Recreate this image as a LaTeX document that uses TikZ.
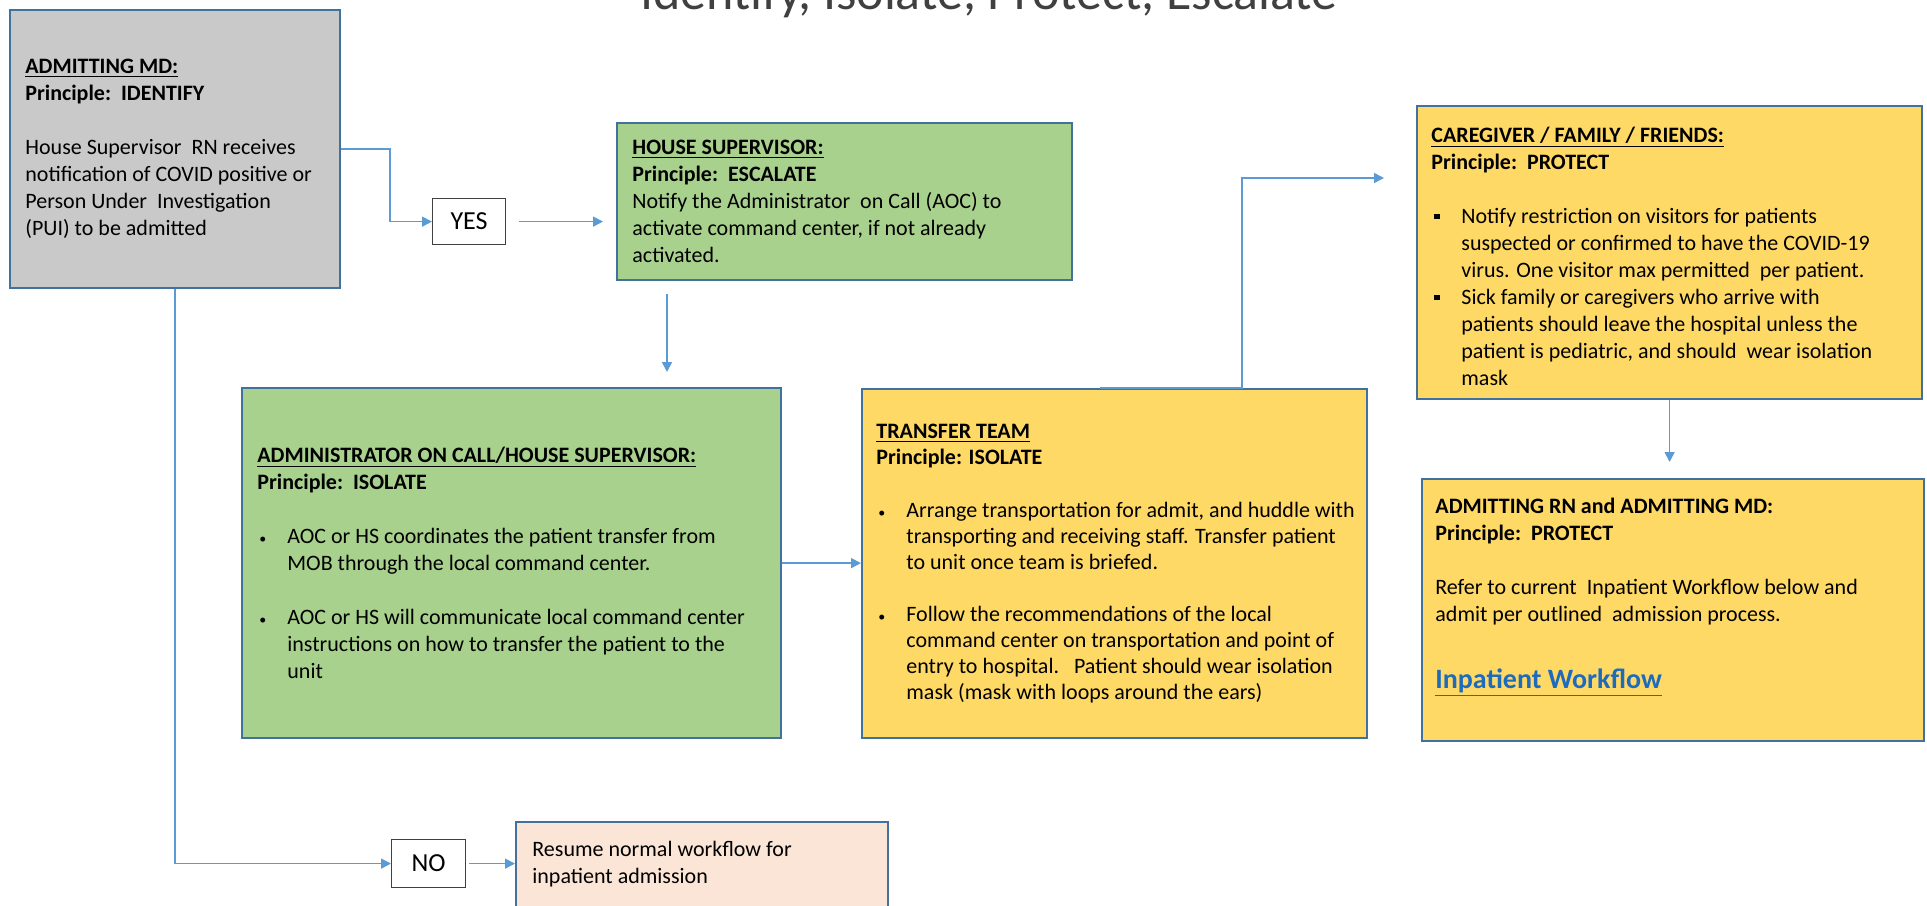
\documentclass[tikz,border=0pt]{standalone}
\usepackage{fontspec}
\setmainfont{Carlito}
\usetikzlibrary{arrows.meta}
\definecolor{bordc}{HTML}{41719C}
\definecolor{connc}{HTML}{5B9BD5}
\definecolor{grayf}{HTML}{C9C9C9}
\definecolor{greenf}{HTML}{A9D18E}
\definecolor{yellowf}{HTML}{FFD966}
\definecolor{peachf}{HTML}{FBE5D6}
\definecolor{linkc}{HTML}{1E6BBE}
\definecolor{titlec}{HTML}{404040}
\newcommand{\bitem}[1]{\makebox[15pt][l]{\hspace{1pt}{\fontsize{7}{7}\selectfont\textbullet}}#1}
\newcommand{\sitem}[1]{\makebox[15pt][l]{\hspace{1.5pt}\rule[0.22em]{2.6pt}{2.6pt}}#1}
\newcommand{\bcont}[1]{\hspace*{15pt}#1}
\begin{document}
\begin{tikzpicture}[x=0.5pt,y=-0.5pt,
  box/.style={draw=bordc, line width=1.1pt, anchor=north west, inner sep=0pt},
  txt/.style={anchor=west, align=left, inner sep=0pt, font=\fontsize{11}{13.5}\selectfont},
  conn/.style={draw=connc, line width=0.8pt, -{Triangle[length=5pt,width=5pt]}},
  lbl/.style={draw=black!75, fill=white, line width=0.6pt, anchor=north west, inner sep=0pt, font=\fontsize{13}{15}\selectfont}]
\useasboundingbox (0,0) rectangle (1927,905);
\clip (0,0) rectangle (1927,905);

% title
\node[anchor=base, font=\fontsize{26}{30}\selectfont, text=titlec] (title) at (989,9) {Identify, Isolate, Protect, Escalate};

% boxes
\node[box, fill=grayf, minimum width=165pt, minimum height=139pt] (md) at (9,9) {};
\node[lbl, minimum width=36.5pt, minimum height=23pt] (yes) at (432,198) {YES};
\node[box, fill=greenf, minimum width=227.5pt, minimum height=78.5pt] (hs) at (616,122) {};
\node[box, fill=greenf, minimum width=269.5pt, minimum height=175pt] (aoc) at (241,387) {};
\node[box, fill=yellowf, minimum width=252.5pt, minimum height=174.5pt] (tt) at (861,388) {};
\node[box, fill=yellowf, minimum width=252.5pt, minimum height=146.5pt] (cg) at (1416,105) {};
\node[box, fill=yellowf, minimum width=251pt, minimum height=131pt] (rn) at (1421,478) {};
\node[lbl, minimum width=37pt, minimum height=24pt] (no) at (391,839) {NO};
\node[box, fill=peachf, minimum width=186pt, minimum height=50pt] (resume) at (515,821) {};

% texts
\node[txt] (mdt) at ([xshift=8pt]md.west) {\underline{\textbf{ADMITTING MD:}}\\
\textbf{Principle:\ \ IDENTIFY}\\[13.5pt]
House Supervisor\ \ RN receives\\
notification of COVID positive or\\
Person Under\ \ Investigation\\
(PUI) to be admitted};

\node[txt] (hst) at ([xshift=8pt]hs.west) {\underline{\textbf{HOUSE SUPERVISOR:}}\\
\textbf{Principle:\ \ ESCALATE}\\
Notify the Administrator\ \ on Call (AOC) to\\
activate command center, if not already\\
activated.};

\node[txt] (aoct) at ([xshift=8pt]aoc.west) {\underline{\textbf{ADMINISTRATOR ON CALL/HOUSE SUPERVISOR:}}\\
\textbf{Principle:\ \ ISOLATE}\\[13.5pt]
\bitem{AOC or HS coordinates the patient transfer from}\\
\bcont{MOB through the local command center.}\\[13.5pt]
\bitem{AOC or HS will communicate local command center}\\
\bcont{instructions on how to transfer the patient to the}\\
\bcont{unit}};

\node[txt, font=\fontsize{11}{13}\selectfont] (ttt) at ([xshift=7.5pt]tt.west) {\underline{\textbf{TRANSFER TEAM}}\\
\textbf{Principle: ISOLATE}\\[13.5pt]
\bitem{Arrange transportation for admit, and huddle with}\\
\bcont{transporting and receiving staff. Transfer patient}\\
\bcont{to unit once team is briefed.}\\[12.8pt]
\bitem{Follow the recommendations of the local}\\
\bcont{command center on transportation and point of}\\
\bcont{entry to hospital.\ \ \ Patient should wear isolation}\\
\bcont{mask (mask with loops around the ears)}};

\node[txt, yshift=-2pt] (cgt) at ([xshift=7.5pt]cg.west) {\underline{\textbf{CAREGIVER / FAMILY / FRIENDS:}}\\
\textbf{Principle:\ \ PROTECT}\\[13.5pt]
\sitem{Notify restriction on visitors for patients}\\
\bcont{suspected or confirmed to have the COVID-19}\\
\bcont{virus. One visitor max permitted\ \ per patient.}\\
\sitem{Sick family or caregivers who arrive with}\\
\bcont{patients should leave the hospital unless the}\\
\bcont{patient is pediatric, and should\ \ wear isolation}\\
\bcont{mask}};

\node[txt, yshift=6.4pt] (rnt) at ([xshift=7pt]rn.west) {\textbf{ADMITTING RN and ADMITTING MD:}\\
\textbf{Principle:\ \ PROTECT}\\[13.5pt]
Refer to current\ \ Inpatient Workflow below and\\
admit per outlined\ \ admission process.\\[19.8pt]
{\fontsize{14}{16}\selectfont\color{linkc}\underline{\textbf{Inpatient Workflow}}}};

\node[txt] (resumet) at ([xshift=8.5pt,yshift=-21.5pt]resume.north west) {Resume normal workflow for\\
inpatient admission};

% connectors
\draw[conn] (md.east) -- ++(49,0) |- (yes.west);
\draw[conn] ([xshift=6.5pt]yes.east) -- ([xshift=-6.5pt]yes.east -| hs.west);
\draw[conn] ([xshift=25.5pt,yshift=-6.5pt]hs.south west) coordinate (s1) -- ([yshift=7.5pt]s1 |- aoc.north);
\draw[conn] (aoc.east) -- (aoc.east -| tt.west);
\draw[conn] ([xshift=119.5pt]tt.north west) -- ([xshift=190.5pt]tt.north west) |- ([xshift=-16pt,yshift=-36.5pt]cg.north west);
\draw[conn] (cg.south) -- ([yshift=8pt]cg.south |- rn.north);
\draw[conn] (md.south) |- (no.west);
\draw[conn] ([xshift=1.5pt]no.east) -- (no.east -| resume.west);
\end{tikzpicture}
\end{document}
